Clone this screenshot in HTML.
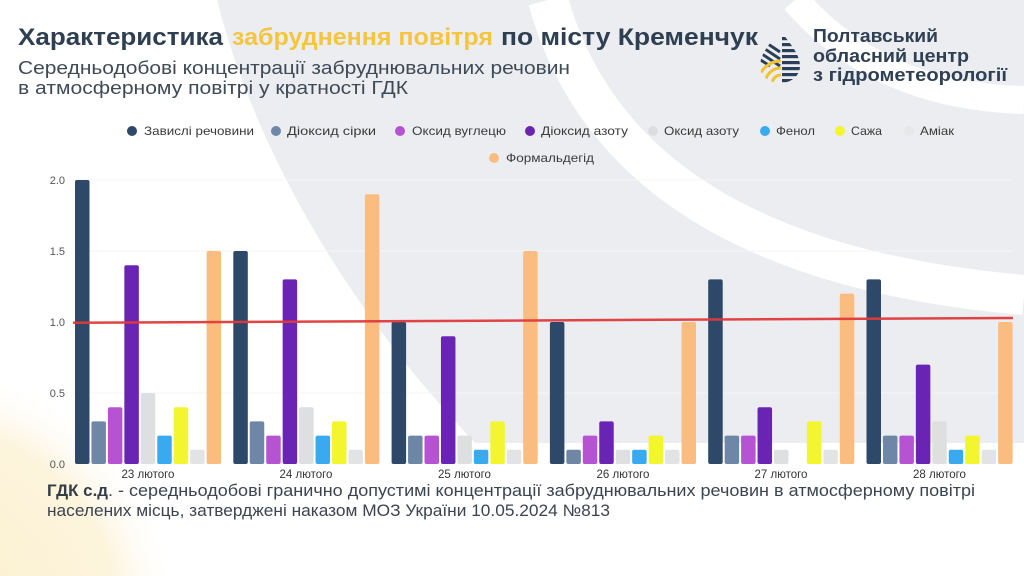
<!DOCTYPE html>
<html>
<head>
<meta charset="utf-8">
<style>
html,body{margin:0;padding:0;background:#fff;width:1024px;height:576px;overflow:hidden;}
svg{display:block;font-family:"Liberation Sans","DejaVu Sans",sans-serif;}
</style>
</head>
<body>
<svg width="1024" height="576" viewBox="0 0 1024 576" xmlns="http://www.w3.org/2000/svg" overflow="hidden">
  <defs>
    <radialGradient id="glow" gradientUnits="userSpaceOnUse" cx="-70" cy="615" r="250">
      <stop offset="0" stop-color="#fbefcc"/>
      <stop offset="0.75" stop-color="#fdf4dd"/>
      <stop offset="1" stop-color="#ffffff" stop-opacity="0"/>
    </radialGradient>
    <clipPath id="drop">
      <path d="M780 29 C786 40 800 52 800 66 C800 76 791 83 780 83 C769 83 760 76 760 66 C760 52 774 40 780 29 Z"/>
    </clipPath>
  </defs>

  <!-- background -->
  <rect x="0" y="0" width="1024" height="576" fill="#ffffff"/>
  <rect x="0" y="360" width="185" height="216" fill="url(#glow)"/>
  <path d="M217 0 L1024 0 L1024 443 L475 443 C330 290 250 130 217 0 Z" fill="#ebedf0"/>
  <path d="M548 0 Q620 260 1024 295" fill="none" stroke="#ffffff" stroke-width="40"/>
  <path d="M795 0 Q878 96 1024 100" fill="none" stroke="#ffffff" stroke-width="28"/>

  <!-- title -->
  <text x="18" y="45" font-size="24" font-weight="bold" fill="#2e3f52" textLength="205" lengthAdjust="spacingAndGlyphs">Характеристика</text>
  <text x="232" y="45" font-size="24" font-weight="bold" fill="#f5c540" textLength="261" lengthAdjust="spacingAndGlyphs">забруднення повітря</text>
  <text x="501" y="45" font-size="24" font-weight="bold" fill="#2e3f52" textLength="257" lengthAdjust="spacingAndGlyphs">по місту Кременчук</text>
  <text x="18" y="74" font-size="18" fill="#3f4a57" textLength="552" lengthAdjust="spacingAndGlyphs">Середньодобові концентрації забруднювальних речовин</text>
  <text x="18" y="94" font-size="18" fill="#3f4a57" textLength="390" lengthAdjust="spacingAndGlyphs">в атмосферному повітрі у кратності ГДК</text>

  <!-- logo -->
  <g clip-path="url(#drop)">
    <rect x="758" y="27" width="45" height="60" fill="#ebedf0"/>
    <g fill="#2b3f58">
      <rect x="782" y="37" width="20" height="3.2"/>
      <rect x="782" y="43" width="20" height="3.2"/>
      <rect x="782" y="49" width="20" height="3.2"/>
      <rect x="782" y="55" width="20" height="3.2"/>
      <rect x="782" y="61" width="20" height="3.2"/>
      <rect x="782" y="67" width="20" height="3.2"/>
      <rect x="782" y="73" width="20" height="3.2"/>
      <rect x="782" y="79" width="20" height="3.2"/>
    </g>
    <g stroke="#2b3f58" stroke-width="3">
      <line x1="756" y1="36" x2="780" y2="52"/>
      <line x1="756" y1="43" x2="780" y2="59"/>
      <line x1="756" y1="50" x2="780" y2="66"/>
      <line x1="756" y1="57" x2="770" y2="66"/>
    </g>
    <g fill="none" stroke="#f2c230" stroke-width="3">
      <path d="M758 84 A23 23 0 0 1 781 61"/>
      <path d="M765 84 A16 16 0 0 1 781 68"/>
      <path d="M772 84 A9 9 0 0 1 781 75"/>
    </g>
  </g>
  <text x="813" y="42" font-size="18" font-weight="bold" fill="#2f4054" textLength="125" lengthAdjust="spacingAndGlyphs">Полтавський</text>
  <text x="813" y="62" font-size="18" font-weight="bold" fill="#2f4054" textLength="156" lengthAdjust="spacingAndGlyphs">обласний центр</text>
  <text x="813" y="81" font-size="18" font-weight="bold" fill="#2f4054" textLength="194" lengthAdjust="spacingAndGlyphs">з гідрометеорології</text>

  <!-- legend -->
  <g font-size="12" fill="#3a3a3a">
    <circle cx="132" cy="131" r="5" fill="#2d4868"/>
    <text x="144" y="135" textLength="110" lengthAdjust="spacingAndGlyphs">Завислі речовини</text>
    <circle cx="276" cy="131" r="5" fill="#6e87a6"/>
    <text x="287" y="135" textLength="89" lengthAdjust="spacingAndGlyphs">Діоксид сірки</text>
    <circle cx="400" cy="131" r="5" fill="#b553d3"/>
    <text x="412" y="135" textLength="94" lengthAdjust="spacingAndGlyphs">Оксид вуглецю</text>
    <circle cx="530" cy="131" r="5" fill="#6a24b3"/>
    <text x="541" y="135" textLength="87" lengthAdjust="spacingAndGlyphs">Діоксид азоту</text>
    <circle cx="653" cy="131" r="5" fill="#dcdddf"/>
    <text x="664" y="135" textLength="75" lengthAdjust="spacingAndGlyphs">Оксид азоту</text>
    <circle cx="765" cy="131" r="5" fill="#3aaaf0"/>
    <text x="776" y="135" textLength="39" lengthAdjust="spacingAndGlyphs">Фенол</text>
    <circle cx="840" cy="131" r="5" fill="#f3f52f"/>
    <text x="851" y="135" textLength="31" lengthAdjust="spacingAndGlyphs">Сажа</text>
    <circle cx="909" cy="131" r="5" fill="#e6e7e9"/>
    <text x="920" y="135" textLength="34" lengthAdjust="spacingAndGlyphs">Аміак</text>
    <circle cx="494" cy="158" r="5" fill="#fbbd7f"/>
    <text x="506" y="162" textLength="88" lengthAdjust="spacingAndGlyphs">Формальдегід</text>
  </g>

  <!-- gridlines -->
  <g stroke="#f4f5f7" stroke-width="1">
    <line x1="73" y1="180" x2="1013" y2="180"/>
    <line x1="73" y1="251" x2="1013" y2="251"/>
    <line x1="73" y1="393" x2="1013" y2="393"/>
  </g>

  <!-- y labels -->
  <g font-size="11" fill="#555" text-anchor="end">
    <text x="65" y="184">2.0</text>
    <text x="65" y="255">1.5</text>
    <text x="65" y="326">1.0</text>
    <text x="65" y="397">0.5</text>
    <text x="65" y="468">0.0</text>
  </g>

  <!-- bars -->
  <g>
    <g fill="#2d4868">
      <rect x="75" y="180" width="14.5" height="284" rx="2"/>
      <rect x="233.3" y="251" width="14.5" height="213" rx="2"/>
      <rect x="391.6" y="322" width="14.5" height="142" rx="2"/>
      <rect x="549.9" y="322" width="14.5" height="142" rx="2"/>
      <rect x="708.2" y="279.4" width="14.5" height="184.6" rx="2"/>
      <rect x="866.5" y="279.4" width="14.5" height="184.6" rx="2"/>
    </g>
    <g fill="#6e87a6">
      <rect x="91.45" y="421.4" width="14.5" height="42.6" rx="2"/>
      <rect x="249.75" y="421.4" width="14.5" height="42.6" rx="2"/>
      <rect x="408.05" y="435.6" width="14.5" height="28.4" rx="2"/>
      <rect x="566.35" y="449.8" width="14.5" height="14.2" rx="2"/>
      <rect x="724.65" y="435.6" width="14.5" height="28.4" rx="2"/>
      <rect x="882.95" y="435.6" width="14.5" height="28.4" rx="2"/>
    </g>
    <g fill="#b553d3">
      <rect x="107.9" y="407.2" width="14.5" height="56.8" rx="2"/>
      <rect x="266.2" y="435.6" width="14.5" height="28.4" rx="2"/>
      <rect x="424.5" y="435.6" width="14.5" height="28.4" rx="2"/>
      <rect x="582.8" y="435.6" width="14.5" height="28.4" rx="2"/>
      <rect x="741.1" y="435.6" width="14.5" height="28.4" rx="2"/>
      <rect x="899.4" y="435.6" width="14.5" height="28.4" rx="2"/>
    </g>
    <g fill="#6a24b3">
      <rect x="124.35" y="265.2" width="14.5" height="198.8" rx="2"/>
      <rect x="282.65" y="279.4" width="14.5" height="184.6" rx="2"/>
      <rect x="440.95" y="336.2" width="14.5" height="127.8" rx="2"/>
      <rect x="599.25" y="421.4" width="14.5" height="42.6" rx="2"/>
      <rect x="757.55" y="407.2" width="14.5" height="56.8" rx="2"/>
      <rect x="915.85" y="364.6" width="14.5" height="99.4" rx="2"/>
    </g>
    <g fill="#dedfe0">
      <rect x="140.8" y="393" width="14.5" height="71" rx="2"/>
      <rect x="299.1" y="407.2" width="14.5" height="56.8" rx="2"/>
      <rect x="457.4" y="435.6" width="14.5" height="28.4" rx="2"/>
      <rect x="615.7" y="449.8" width="14.5" height="14.2" rx="2"/>
      <rect x="774" y="449.8" width="14.5" height="14.2" rx="2"/>
      <rect x="932.3" y="421.4" width="14.5" height="42.6" rx="2"/>
    </g>
    <g fill="#3aaaf0">
      <rect x="157.25" y="435.6" width="14.5" height="28.4" rx="2"/>
      <rect x="315.55" y="435.6" width="14.5" height="28.4" rx="2"/>
      <rect x="473.85" y="449.8" width="14.5" height="14.2" rx="2"/>
      <rect x="632.15" y="449.8" width="14.5" height="14.2" rx="2"/>
      <rect x="948.75" y="449.8" width="14.5" height="14.2" rx="2"/>
    </g>
    <g fill="#f3f52f">
      <rect x="173.7" y="407.2" width="14.5" height="56.8" rx="2"/>
      <rect x="332" y="421.4" width="14.5" height="42.6" rx="2"/>
      <rect x="490.3" y="421.4" width="14.5" height="42.6" rx="2"/>
      <rect x="648.6" y="435.6" width="14.5" height="28.4" rx="2"/>
      <rect x="806.9" y="421.4" width="14.5" height="42.6" rx="2"/>
      <rect x="965.2" y="435.6" width="14.5" height="28.4" rx="2"/>
    </g>
    <g fill="#e2e3e4">
      <rect x="190.15" y="449.8" width="14.5" height="14.2" rx="2"/>
      <rect x="348.45" y="449.8" width="14.5" height="14.2" rx="2"/>
      <rect x="506.75" y="449.8" width="14.5" height="14.2" rx="2"/>
      <rect x="665.05" y="449.8" width="14.5" height="14.2" rx="2"/>
      <rect x="823.35" y="449.8" width="14.5" height="14.2" rx="2"/>
      <rect x="981.65" y="449.8" width="14.5" height="14.2" rx="2"/>
    </g>
    <g fill="#fbbd7f">
      <rect x="206.6" y="251" width="14.5" height="213" rx="2"/>
      <rect x="364.9" y="194.2" width="14.5" height="269.8" rx="2"/>
      <rect x="523.2" y="251" width="14.5" height="213" rx="2"/>
      <rect x="681.5" y="322" width="14.5" height="142" rx="2"/>
      <rect x="839.8" y="293.6" width="14.5" height="170.4" rx="2"/>
      <rect x="998.1" y="322" width="14.5" height="142" rx="2"/>
    </g>
  </g>

  <!-- limit line -->
  <line x1="73" y1="322.8" x2="1013" y2="318" stroke="#e03a3a" stroke-width="2.5" stroke-opacity="0.95"/>

  <!-- x labels -->
  <g font-size="11.5" fill="#333" text-anchor="middle">
    <text x="148" y="478">23 лютого</text>
    <text x="306" y="478">24 лютого</text>
    <text x="464.5" y="478">25 лютого</text>
    <text x="623" y="478">26 лютого</text>
    <text x="781" y="478">27 лютого</text>
    <text x="939.5" y="478">28 лютого</text>
  </g>

  <!-- footer -->
  <text x="47" y="496" font-size="16.5" font-weight="bold" fill="#333d48" textLength="61" lengthAdjust="spacingAndGlyphs">ГДК с.д</text>
  <text x="108" y="496" font-size="16.5" fill="#3b4450" textLength="867" lengthAdjust="spacingAndGlyphs">. - середньодобові гранично допустимі концентрації забруднювальних речовин в атмосферному повітрі</text>
  <text x="47" y="516" font-size="16.5" fill="#3b4450" textLength="563" lengthAdjust="spacingAndGlyphs">населених місць, затверджені наказом МОЗ України 10.05.2024 №813</text>
</svg>
</body>
</html>
